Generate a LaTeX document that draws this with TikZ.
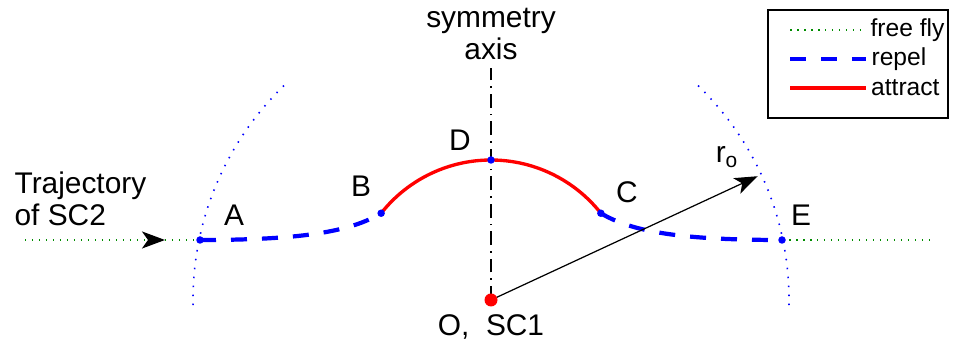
\documentclass[tikz,border=0pt]{standalone}
\usepackage{fontspec}
\setmainfont{Liberation Sans}
\usetikzlibrary{arrows.meta,decorations.markings,calc}
\definecolor{flygreen}{RGB}{0,140,0}
\definecolor{repelblue}{RGB}{0,0,255}
\definecolor{attractred}{RGB}{255,0,0}
\tikzset{
  every picture/.style={line width=0.7pt},
  sTip/.tip={Stealth[length=0.46cm, width=0.34cm, inset=0.12cm]},
  sFree/.style={draw=flygreen, line width=1.2pt, dash pattern=on 0.03cm off 0.11cm},
  sFreeArrow/.style={sFree, postaction={decorate, decoration={markings,
                  mark=at position 0.8 with {\arrow[black]{sTip}}}}},
  sRepel/.style={draw=repelblue, line width=2.4pt, dash pattern=on 0.32cm off 0.3cm},
  sAttract/.style={draw=attractred, line width=1.9pt},
  sRange/.style={draw=repelblue, line width=0.9pt, dash pattern=on 0.03cm off 0.15cm},
  sAxis/.style={draw=black, line width=1.1pt,
                dash pattern=on 0.28cm off 0.12cm on 0.03cm off 0.12cm},
  sRadius/.style={draw=black, line width=0.7pt, -sTip},
  sDot/.style={circle, fill=repelblue, inner sep=0pt, minimum size=0.15cm},
  sOrigin/.style={circle, fill=attractred, inner sep=0pt, minimum size=0.26cm},
  sText/.style={font=\fontsize{17}{18}\selectfont, inner sep=0pt},
  sLeg/.style={font=\fontsize{14}{16}\selectfont, inner sep=2pt},
}
\begin{document}
\begin{tikzpicture}[x=0.02cm, y=0.02cm]
  \useasboundingbox (0,0) rectangle (954,347);
  % points of the flyby
  \coordinate (O) at (491,47);
  \coordinate (A) at (200,107);
  \coordinate (E) at (782,107);
  \coordinate (B) at ($(O)+(141.7:140)$);
  \coordinate (C) at ($(O)+(38.3:140)$);
  \coordinate (D) at ($(O)+(90:140)$);
  \coordinate (start) at (25,107);
  \coordinate (finish) at (930,107);
  \coordinate (top) at (491,279);
  \coordinate (rtip) at ($(O)+(24.9:294)$);
  % range of SC1
  \draw[sRange] ($(O)+(134:298)$) arc[start angle=134, end angle=182, radius=298];
  \draw[sRange] ($(O)+(46:298)$) arc[start angle=46, end angle=-2, radius=298];
  % symmetry axis
  \draw[sAxis] (O) -- (top);
  \node[sText, align=center] (axis) at (491,313) {symmetry\\axis};
  % trajectory of SC2
  \draw[sFreeArrow] (start) -- (A);
  \draw[sFree] (E) -- (finish);
  \draw[sRepel] (A) .. controls (300,107) and (350,115) .. (B);
  \draw[sAttract] (B) arc[start angle=141.7, end angle=38.3, radius=140];
  \draw[sRepel] (C) .. controls (632,115) and (682,107) .. (E);
  \draw[sRadius] (O) -- (rtip);
  \foreach \p in {A,B,C,D,E}
    \node[sDot] (d\p) at (\p) {};
  \node[sOrigin] (dO) at (O) {};
  % labels
  \node[sText, align=left, anchor=west] (traj) at (14,148) {Trajectory\\of SC2};
  \node[sText] (lA) at (234,132) {A};
  \node[sText] (lB) at (361,161) {B};
  \node[sText] (lC) at (627,155) {C};
  \node[sText] (lD) at (460,207) {D};
  \node[sText] (lE) at (801,132) {E};
  \node[sText] (lO) at (491,20) {O,\ \ SC1};
  \node[sText] (lr) at (727,190) {r\textsubscript{o}};
  % legend
  \node[draw, line width=1pt, minimum width=3.6cm, minimum height=2.16cm,
        inner sep=0pt] (legend) at (858,283) {};
  \coordinate (k1) at (790,317);
  \coordinate (k2) at (790,288);
  \coordinate (k3) at (790,259);
  \draw[sFree] (k1) -- ++(76,0) node[sLeg, right] (t1) {free fly};
  \draw[sRepel] (k2) -- ++(76,0) node[sLeg, right] (t2) {repel};
  \draw[sAttract] (k3) -- ++(76,0) node[sLeg, right] (t3) {attract};
\end{tikzpicture}
\end{document}
